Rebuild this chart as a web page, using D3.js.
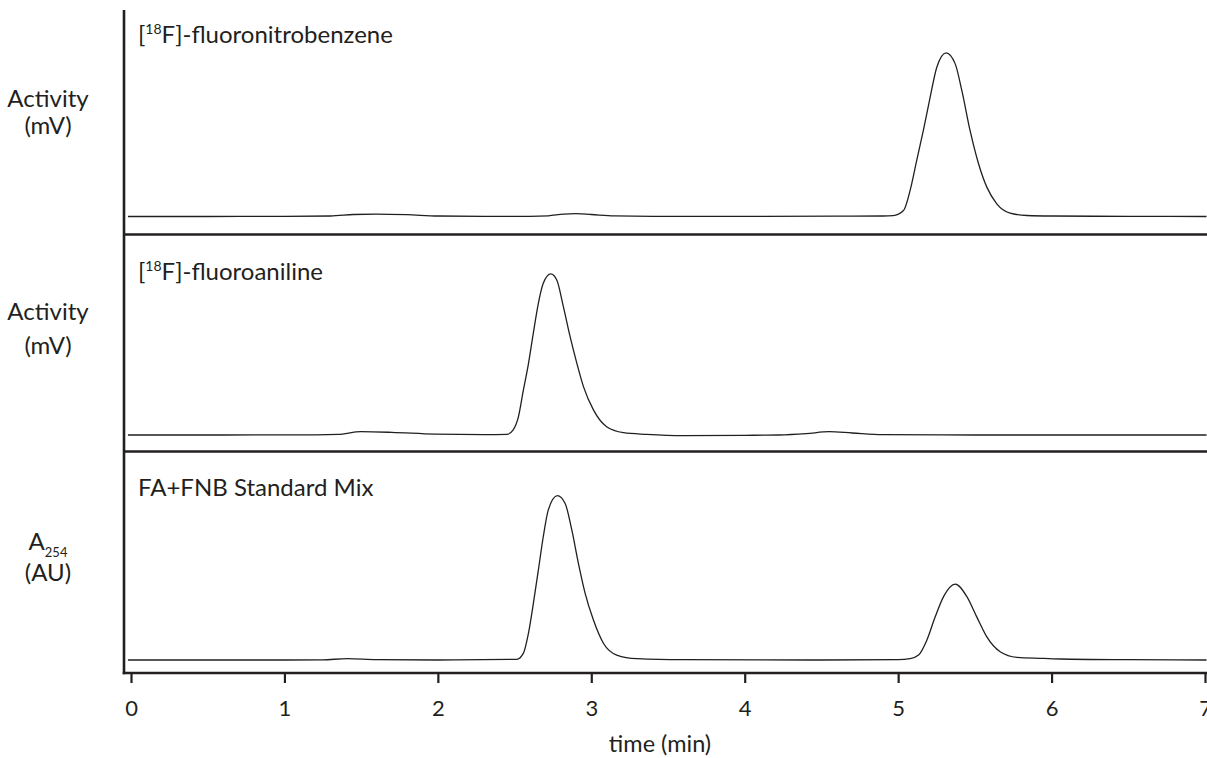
<!DOCTYPE html>
<html>
<head>
<meta charset="utf-8">
<script src="https://cdn.jsdelivr.net/npm/d3@7"></script>
<style>
  html, body { margin: 0; padding: 0; background: #fff; }
  svg { display: block; }
  text { font-family: Lato, "Open Sans", sans-serif; fill: #231f20; }
</style>
</head>
<body>
<svg id="chart" width="1207" height="758"></svg>
<script>
// Radio-HPLC and UV traces: [time (min), signal (relative units, 100 = full panel peak)]
const fnbTrace = [
  [-0.02,0],[0.5,0],[1.0,0.1],[1.3,0.3],[1.45,1.2],[1.6,1.5],[1.8,1.1],[2.0,0.3],[2.3,0.1],
  [2.6,0.1],[2.72,0.4],[2.82,1.5],[2.9,1.7],[3.0,1.2],[3.15,0.4],[3.4,0.1],[4.0,0.1],[4.6,0.2],
  [4.9,0.3],[4.967,0.5],[5.035,3.6],[5.078,15.8],[5.121,34],[5.164,52],[5.208,72],[5.252,90.5],
  [5.313,99.2],[5.372,92.5],[5.415,76.4],[5.469,52],[5.524,32],[5.578,17.8],[5.643,7.7],
  [5.73,2],[5.84,0.6],[6.0,0.3],[6.5,0.1],[7.01,0]
];
const faTrace = [
  [-0.02,0],[0.6,0],[1.2,0.1],[1.35,0.4],[1.5,2.0],[1.7,1.6],[1.98,0.5],[2.3,0.2],[2.45,0.4],
  [2.49,3],[2.525,11],[2.557,27],[2.59,43],[2.622,61.6],[2.655,79.8],[2.687,92],[2.736,97.6],
  [2.775,93.9],[2.818,77.8],[2.862,59.6],[2.906,43.4],[2.949,29.3],[3.014,15.2],[3.1,5],
  [3.21,1.4],[3.36,0.4],[3.6,-0.4],[4.0,-0.2],[4.22,0],[4.4,0.8],[4.55,2.0],[4.7,1.2],
  [4.9,0.2],[5.5,0],[7.01,0]
];
const mixTrace = [
  [-0.02,0],[1.0,0],[1.25,0.1],[1.41,0.8],[1.6,0.2],[2.0,0],[2.514,0.4],[2.557,4],[2.59,16],
  [2.622,34],[2.655,54.5],[2.687,74.7],[2.72,91],[2.779,99.6],[2.829,95],[2.873,78.8],
  [2.916,58.6],[2.96,40.4],[3.014,24.2],[3.08,10],[3.166,3],[3.297,0.8],[3.6,0.2],[4.5,0],
  [5.0,0.2],[5.078,0.8],[5.133,3],[5.187,12],[5.241,26],[5.296,38.4],[5.372,46],[5.448,38.4],
  [5.513,26],[5.578,14],[5.665,5],[5.774,1.6],[5.946,1],[6.06,0.6],[6.5,0.2],[7.01,0]
];
const xTicks = [0, 1, 2, 3, 4, 5, 6, 7];
const xTitle = "time (min)";

// Panel layout (top edge, bottom edge, baseline of the trace)
const panels = [
  { trace: fnbTrace, top: 10,  bottom: 234.5, baseline: 216.5, title: ["[", "18", "F]-fluoronitrobenzene"] },
  { trace: faTrace,  top: 234.5, bottom: 451.5, baseline: 435, title: ["[", "18", "F]-fluoroaniline"] },
  { trace: mixTrace, top: 451.5, bottom: 673, baseline: 660, title: ["FA+FNB Standard Mix"] }
];

const svg = d3.select("#chart");
const axisX = 124, rightX = 1207;

const x = d3.scaleLinear().domain([0, 7]).range([131, 1205]);

panels.forEach((p, i) => {
  const y = d3.scaleLinear().domain([0, 100]).range([p.baseline, p.baseline - 165]);
  const line = d3.line()
    .x(d => x(d[0]))
    .y(d => y(d[1]))
    .curve(d3.curveMonotoneX);

  svg.append("path")
    .datum(p.trace)
    .attr("d", line)
    .attr("fill", "none")
    .attr("stroke", "#231f20")
    .attr("stroke-width", 1.3);

  // Panel title
  const t = svg.append("text")
    .attr("x", 138)
    .attr("y", [43, 280, 496][i])
    .attr("font-size", 24);
  if (p.title.length === 3) {
    t.append("tspan").text(p.title[0]);
    t.append("tspan").attr("font-size", 14).attr("dy", -9).text(p.title[1]);
    t.append("tspan").attr("dy", 9).text(p.title[2]);
  } else {
    t.text(p.title[0]);
  }

  // Separator between panels
  if (i < panels.length - 1) {
    svg.append("line")
      .attr("x1", axisX).attr("x2", rightX)
      .attr("y1", p.bottom).attr("y2", p.bottom)
      .attr("stroke", "#231f20").attr("stroke-width", 2.4);
  }
});

// Y-axis labels
const ylab = svg.append("g").attr("font-size", 24).attr("text-anchor", "middle");
ylab.append("text").attr("x", 48).attr("y", 107).text("Activity");
ylab.append("text").attr("x", 48).attr("y", 134).text("(mV)");
ylab.append("text").attr("x", 48).attr("y", 320).text("Activity");
ylab.append("text").attr("x", 48).attr("y", 354).text("(mV)");
const a254 = ylab.append("text").attr("x", 48).attr("y", 550);
a254.append("tspan").text("A");
a254.append("tspan").attr("font-size", 13).attr("dy", 7).text("254");
ylab.append("text").attr("x", 48).attr("y", 581).text("(AU)");

// Vertical frame line
svg.append("line")
  .attr("x1", axisX).attr("x2", axisX)
  .attr("y1", 10).attr("y2", 674.2)
  .attr("stroke", "#231f20").attr("stroke-width", 2.6);

// X axis
const xAxis = d3.axisBottom(x)
  .tickValues(xTicks)
  .tickSize(10)
  .tickPadding(17)
  .tickFormat(d3.format("d"));
const gx = svg.append("g")
  .attr("transform", "translate(0,673)")
  .call(xAxis);
gx.select(".domain").remove();
gx.selectAll(".tick line").attr("stroke", "#231f20").attr("stroke-width", 2.2);
gx.selectAll(".tick text")
  .attr("font-size", 22)
  .attr("font-family", "Lato, 'Open Sans', sans-serif")
  .attr("fill", "#231f20");
svg.append("line")
  .attr("x1", axisX - 1.3).attr("x2", rightX)
  .attr("y1", 673).attr("y2", 673)
  .attr("stroke", "#231f20").attr("stroke-width", 2.6);

svg.append("text")
  .attr("x", 660).attr("y", 752)
  .attr("text-anchor", "middle")
  .attr("font-size", 23.5)
  .text(xTitle);
</script>
</body>
</html>
